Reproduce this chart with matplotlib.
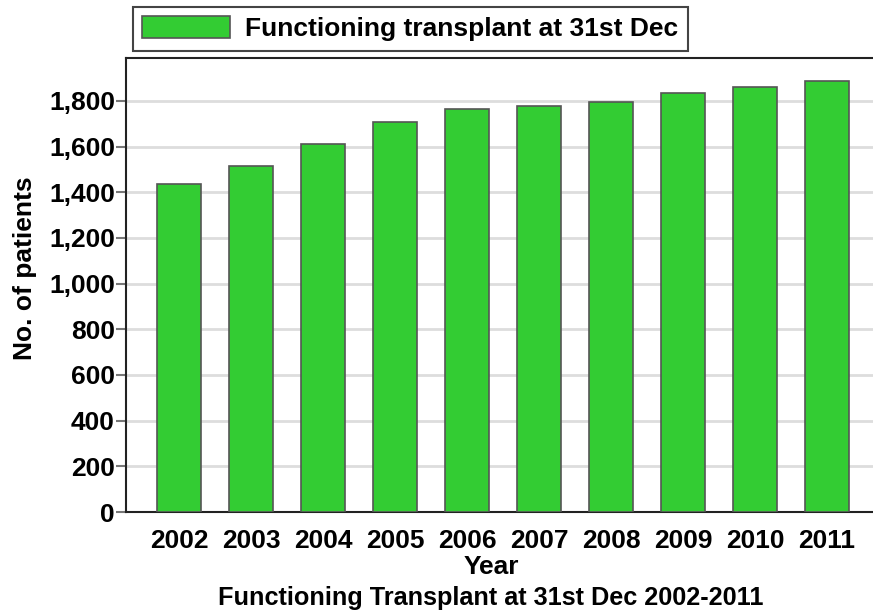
import numpy as np
import matplotlib.pyplot as plt
from matplotlib.ticker import FuncFormatter

plt.rcParams['font.family'] = ['Liberation Sans', 'DejaVu Sans']
plt.rcParams['font.weight'] = 'bold'

years = ['2002', '2003', '2004', '2005', '2006', '2007', '2008', '2009', '2010', '2011']
patients = [1437, 1514, 1612, 1709, 1764, 1778, 1795, 1834, 1860, 1886]

W, H = 873, 614
FS = 19
fig = plt.figure(figsize=(W / 100, H / 100), dpi=100)
# axes box in pixels: left 126, bottom 512, top 58, right beyond image edge
ax = fig.add_axes([126 / W, (H - 512) / H, (880 - 126) / W, (512 - 58) / H])

x = np.arange(len(years))
ax.bar(x, patients, width=0.61, color='#33cc33', edgecolor='#555555',
       linewidth=1.2, zorder=3, label='Functioning transplant at 31st Dec')

ax.set_xlim(-0.736, -0.736 + 754 / 72)
ax.set_ylim(0, 1988)
ax.set_yticks(range(0, 1801, 200))
ax.yaxis.set_major_formatter(FuncFormatter(lambda v, p: f'{int(v):,}'))
ax.set_xticks(x)
ax.set_xticklabels(years)
ax.grid(axis='y', color='#dddddd', linewidth=2, zorder=0)
ax.tick_params(axis='y', length=7, width=1.5, color='#777777', labelsize=FS, pad=1)
ax.tick_params(axis='x', length=0, labelsize=FS, pad=12)
for s in ['left', 'bottom', 'top']:
    ax.spines[s].set_color('#222222')
    ax.spines[s].set_linewidth(1.5)
ax.spines['right'].set_visible(False)

fig.text(25 / W, 1 - 268 / H, 'No. of patients', rotation=90, ha='center', va='center',
         fontsize=FS, fontweight='bold')
fig.text(491 / W, 1 - 567 / H, 'Year', ha='center', va='center', fontsize=FS, fontweight='bold')
fig.text(491 / W, 1 - 598 / H, 'Functioning Transplant at 31st Dec 2002-2011', ha='center',
         va='center', fontsize=18.2, fontweight='bold')

leg = ax.legend(loc='upper left', bbox_to_anchor=(133 / W, 1 - 7 / H), bbox_transform=fig.transFigure,
                fancybox=False, framealpha=1, edgecolor='#444444', fontsize=FS,
                handlelength=3.33, handleheight=0.91, borderpad=0.35, handletextpad=0.57,
                borderaxespad=0)
leg.get_frame().set_linewidth(1.5)
for t in leg.get_texts():
    t.set_fontweight('bold')

fig.savefig('out.png', dpi=100)
